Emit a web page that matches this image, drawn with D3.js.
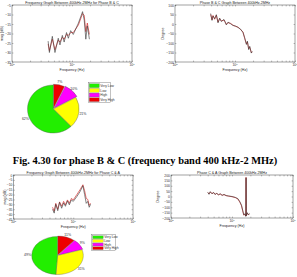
<!DOCTYPE html>
<html><head><meta charset="utf-8">
<script src="https://cdn.jsdelivr.net/npm/d3@7"></script>
<style>
html,body{margin:0;padding:0;background:#fff;}
svg{display:block;}
text{font-family:"Liberation Sans",Arial,sans-serif;}
</style></head>
<body>
<script>
// ---------- DATA ----------
// Phase B & C magnitude (dB)
const magBCFreqKHz = [400, 420, 470, 520, 590, 630, 690, 740, 810, 870, 950, 1050, 1280, 1500, 1600, 1700, 1800, 1950];
const magBCBlack   = [-24, -30, -21.5, -30, -22.5, -26, -21, -24.5, -19.5, -22.5, -18.5, -20.5, -14.5, -8.5, -13, -23, -16, -23];
const magBCRed     = [-25.5, -29, -23, -28.5, -23.5, -24.5, -22, -23, -20.5, -21, -19.5, -19.5, -15.5, -9.5, -10.5, -19, -14.5, -20.5];
const magBCTicks   = [-35, -30, -25, -20, -15, -10, -5];

// Phase B & C phase (degree)
const phBCFreqKHz = [393, 414, 430, 458, 489, 521, 555, 592, 656, 718, 764, 847, 926, 1010, 1120, 1240, 1360, 1450, 1550, 1610, 1690, 1760, 1870, 1940];
const phBCBlack   = [55, 19, 42, 28, 49, 6, 31, 13, 24, -5, 10, 1, -8, -10, -18, -27, -45, -72, -108, -90, -135, -117, -153, -144];
const phBCRed     = [50, 22, 45, 25, 46, 10, 28, 16, 21, -2, 7, 3, -6, -12, -16, -30, -42, -76, -104, -95, -130, -122, -150, -148];
const phBCTicks   = [-200, -150, -100, -50, 0, 50, 100];

// Phase C & A magnitude (dB)
const magCAFreqKHz = [450, 480, 510, 550, 590, 640, 690, 740, 800, 860, 930, 1000, 1150, 1300, 1450, 1550, 1650, 1750, 1850, 1950];
const magCABlack   = [-35, -39, -30, -36.5, -28, -34, -28.5, -32, -26.5, -30.5, -25.5, -27, -22, -17, -11, -20, -29, -27, -33, -30];
const magCARed     = [-33, -37, -29, -35, -27.5, -32, -27, -30.5, -25.5, -29, -24, -25.5, -20, -15, -10, -16, -24, -25, -31, -29];
const magCATicks   = [-45, -40, -35, -30, -25, -20, -15, -10, -5, 0];

// Phase C & A phase (degree)
const phCAFreqKHz = [400, 420, 440, 470, 500, 530, 560, 600, 640, 690, 740, 800, 880, 1000, 1130, 1250, 1350, 1430, 1500, 1560, 1620, 1680, 1700, 1720, 1780, 1850, 1940];
const phCABlack   = [40, 20, 45, 25, 38, 18, 32, 14, 26, 10, 20, 8, 5, 0, -8, -20, -50, -80, -130, -170, -160, -185, 175, -178, -150, -170, -160];
const phCARed     = [36, 24, 42, 28, 35, 20, 29, 16, 23, 12, 17, 9, 3, -2, -10, -24, -55, -86, -136, -174, -165, -182, 178, -180, -155, -168, -163];
const phCATicks   = [-200, -150, -100, -50, 0, 50, 100, 150, 200];

const xMajorTicks = [1e5, 1e6, 1e7];

// Pie charts (percent)
const pieCategories = ["Very Low", "Low", "High", "Very High"];
const pieBCValues = [62, 21, 10, 7];
const pieCAValues = [49, 31, 9, 11];

const captionText = "Fig. 4.30 for phase B & C (frequency band 400 kHz-2 MHz)";

// ---------- STYLE ----------
const catColors = {"Very Low":"#22ee00","Low":"#ffff00","High":"#ff00ff","Very High":"#ee0000"};
const W = 297, H = 277;
const svg = d3.select("body").append("svg").attr("width", W).attr("height", H);
svg.append("rect").attr("width", W).attr("height", H).attr("fill", "#fff");

function lineChart(cfg) {
  const g = svg.append("g");
  const x = d3.scaleLog().domain([1e5, 1e7]).range([cfg.x0, cfg.x1]);
  const y = d3.scaleLinear().domain(cfg.yDomain).range([cfg.y1, cfg.y0]);
  const fs = 3.4;
  const minor = [];
  for (let e = 5; e < 7; e++) for (let m = 2; m <= 9; m++) minor.push(m * Math.pow(10, e));
  const axB = d3.axisBottom(x).tickValues(xMajorTicks.concat(minor)).tickSize(-1.4).tickFormat("");
  const axT = d3.axisTop(x).tickValues(xMajorTicks.concat(minor)).tickSize(-1.4).tickFormat("");
  const axL = d3.axisLeft(y).tickValues(cfg.yTicks).tickSize(-1.4).tickPadding(1).tickFormat(d3.format("d"));
  const axR = d3.axisRight(y).tickValues(cfg.yTicks).tickSize(-1.4).tickFormat("");
  const style = (sel) => {
    sel.select(".domain").attr("stroke", "none");
    sel.selectAll(".tick line").attr("stroke", "#555").attr("stroke-width", 0.4);
    sel.selectAll("text").attr("font-size", fs).attr("fill", "#333");
  };
  g.append("g").attr("transform", `translate(0,${cfg.y1})`).call(axB).call(style);
  g.append("g").attr("transform", `translate(0,${cfg.y0})`).call(axT).call(style);
  g.append("g").attr("transform", `translate(${cfg.x0},0)`).call(axL).call(style);
  g.append("g").attr("transform", `translate(${cfg.x1},0)`).call(axR).call(style);
  g.append("rect").attr("x", cfg.x0).attr("y", cfg.y0).attr("width", cfg.x1 - cfg.x0).attr("height", cfg.y1 - cfg.y0)
    .attr("fill", "none").attr("stroke", "#444").attr("stroke-width", 0.5);
  xMajorTicks.forEach(v => {
    const t = g.append("text").attr("x", x(v)).attr("y", cfg.y1 + 4.2).attr("text-anchor", "middle")
      .attr("font-size", fs).attr("fill", "#333");
    t.append("tspan").text("10");
    t.append("tspan").attr("font-size", fs * 0.7).attr("dy", -1.2).text(String(Math.round(Math.log10(v))));
  });
  const line = d3.line().x(d => x(d[0] * 1000)).y(d => y(d[1]));
  cfg.series.forEach(s => {
    g.append("path").datum(cfg.freq.map((f, i) => [f, s.values[i]]))
      .attr("d", line).attr("fill", "none").attr("stroke", s.color).attr("stroke-width", 0.6);
  });
  g.append("text").attr("x", (cfg.x0 + cfg.x1) / 2).attr("y", cfg.titleY).attr("text-anchor", "middle")
    .attr("font-size", 3.6).attr("fill", "#222").text(cfg.title);
  g.append("text").attr("x", (cfg.x0 + cfg.x1) / 2).attr("y", cfg.y1 + 8.5).attr("text-anchor", "middle")
    .attr("font-size", 3.6).attr("fill", "#222").text("Frequency (Hz)");
  g.append("text").attr("transform", `translate(${cfg.ylabX},${(cfg.y0 + cfg.y1) / 2}) rotate(-90)`)
    .attr("text-anchor", "middle").attr("font-size", 3.6).attr("fill", "#222").text(cfg.ylabel);
}

lineChart({x0: 12, x1: 132, y0: 5, y1: 62, yDomain: [-35, -5], yTicks: magBCTicks, titleY: 4,
  title: "Frequency Graph Between 400kHz-2MHz for Phase B & C", ylabel: "mag (dB)", ylabX: 3,
  freq: magBCFreqKHz, series: [{values: magBCRed, color: "#d01010"}, {values: magBCBlack, color: "#333"}]});

lineChart({x0: 175, x1: 295, y0: 5, y1: 62, yDomain: [-200, 100], yTicks: phBCTicks, titleY: 4,
  title: "Phase B & C Graph Between 400kHz-2MHz", ylabel: "Degree", ylabX: 164,
  freq: phBCFreqKHz, series: [{values: phBCRed, color: "#d01010"}, {values: phBCBlack, color: "#333"}]});

lineChart({x0: 13.5, x1: 133, y0: 175, y1: 219, yDomain: [-45, 0], yTicks: magCATicks, titleY: 173.5,
  title: "Frequency Graph Between 400kHz-2MHz for Phase C & A", ylabel: "mag (dB)", ylabX: 6,
  freq: magCAFreqKHz, series: [{values: magCARed, color: "#d01010"}, {values: magCABlack, color: "#333"}]});

lineChart({x0: 171, x1: 293, y0: 175, y1: 218, yDomain: [-200, 200], yTicks: phCATicks, titleY: 173.5,
  title: "Phase C & A Graph Between 400kHz-2MHz", ylabel: "Degree", ylabX: 159,
  freq: phCAFreqKHz, series: [{values: phCARed, color: "#d01010"}, {values: phCABlack, color: "#333"}]});

function pieChart(cfg) {
  const g = svg.append("g").attr("transform", `translate(${cfg.cx},${cfg.cy})`);
  const data = pieCategories.map((c, i) => ({cat: c, v: cfg.values[i]})).reverse();
  const arcs = d3.pie().value(d => d.v).sort(null).startAngle(0).endAngle(2 * Math.PI)(data);
  const arc = d3.arc().innerRadius(0).outerRadius(cfg.rx);
  const k = cfg.ry / cfg.rx;
  const pg = g.append("g").attr("transform", `scale(1,${k})`);
  pg.selectAll("path").data(arcs).join("path")
    .attr("transform", d => {
      const ex = cfg.explode[d.data.cat] || 0;
      const a = (d.startAngle + d.endAngle) / 2;
      return `translate(${ex * Math.sin(a)},${-ex * Math.cos(a)})`;
    })
    .attr("d", arc).attr("fill", d => catColors[d.data.cat])
    .attr("stroke", "#555").attr("stroke-width", 0.4);
  arcs.forEach(d => {
    const a = (d.startAngle + d.endAngle) / 2;
    g.append("text").attr("x", cfg.lr * Math.sin(a)).attr("y", -cfg.lr * k * Math.cos(a) + 1.2)
      .attr("text-anchor", "middle").attr("font-size", 3.5).attr("fill", "#333").text(d.data.v + "%");
  });
  const lg = svg.append("g");
  lg.append("rect").attr("x", cfg.lx).attr("y", cfg.ly).attr("width", cfg.lw).attr("height", cfg.lh)
    .attr("fill", "#fff").attr("stroke", "#666").attr("stroke-width", 0.4);
  const rowH = (cfg.lh - 1.4) / pieCategories.length;
  pieCategories.forEach((c, i) => {
    const yy = cfg.ly + 0.7 + i * rowH;
    lg.append("rect").attr("x", cfg.lx + 1).attr("y", yy + 0.4).attr("width", cfg.sw).attr("height", rowH - 0.8)
      .attr("fill", catColors[c]).attr("stroke", "#555").attr("stroke-width", 0.25);
    lg.append("text").attr("x", cfg.lx + cfg.sw + 2).attr("y", yy + rowH * 0.5 + 1.2)
      .attr("font-size", 3.3).attr("fill", "#333").text(c);
  });
}

pieChart({cx: 53.3, cy: 109, rx: 25.8, ry: 24, lr: 30, values: pieBCValues,
  explode: {"High": 1.5, "Very High": 0.8},
  lx: 88.3, ly: 82.7, lw: 22, lh: 20, sw: 10});

pieChart({cx: 57.5, cy: 255.5, rx: 25.8, ry: 19, lr: 30, values: pieCAValues,
  explode: {"High": 0.8, "Very High": 0.6},
  lx: 91.7, ly: 234.7, lw: 24, lh: 16, sw: 10.5});

svg.append("text").attr("x", 145).attr("y", 164).attr("text-anchor", "middle")
  .style("font-family", "'Liberation Serif','Times New Roman',serif").style("font-weight", "bold").style("font-size", "10.4px")
  .attr("fill", "#000").text(captionText);
</script>
</body></html>
